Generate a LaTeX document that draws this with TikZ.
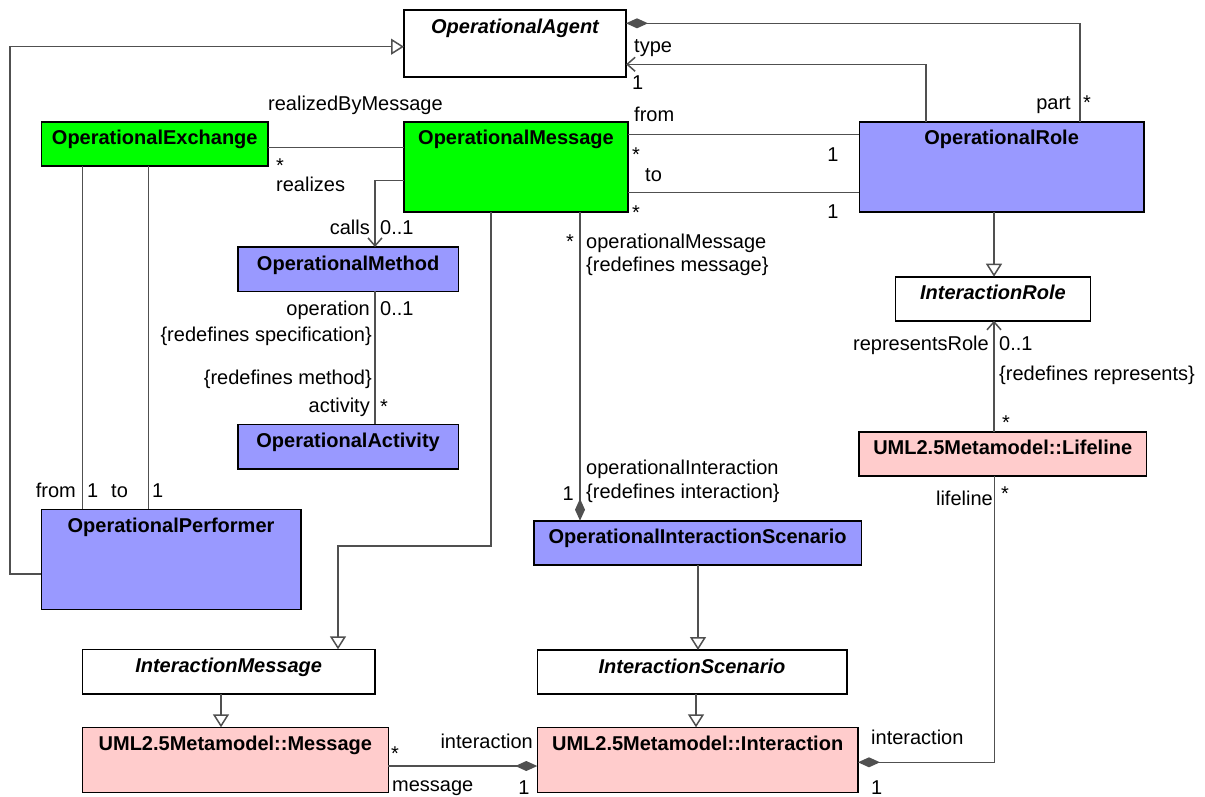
\documentclass[tikz,border=0pt]{standalone}
\usepackage{fontspec}
\setmainfont{Liberation Sans}
\usetikzlibrary{arrows.meta}
\definecolor{opgreen}{RGB}{0,255,0}
\definecolor{opblue}{RGB}{153,153,255}
\definecolor{umlpink}{RGB}{255,204,204}
\definecolor{linec}{RGB}{80,80,80}
% class box: name, fill/style, left, top, right, bottom, title style, title
\newcommand\umlbox[8]{%
  \node[box,#2,minimum width={(#5-#3)*1pt},minimum height={(#6-#4)*1pt},
        label={[#7]north:#8}] (#1) at (#3,#4) {};}
\begin{document}
\begin{tikzpicture}[x=1pt,y=-1pt,
  font=\fontsize{20}{24}\selectfont,
  box/.style={draw=black,line width=1.6pt,inner sep=0pt,outer sep=0pt,anchor=north west},
  title/.style={font=\fontsize{20}{24}\selectfont\bfseries,anchor=north,yshift=-7pt,
                inner sep=2pt,text height=14pt,text depth=4pt},
  ititle/.style={title,font=\fontsize{20}{24}\selectfont\bfseries\itshape},
  lbl/.style={inner sep=2pt,text height=14pt,text depth=4pt},
  mult/.style={inner sep=1pt,text height=12pt,text depth=0pt},
  conn/.style={draw=linec,line width=1.5pt},
  assoc/.style={conn},
  gen/.style={conn,-{Triangle[open,length=13pt,width=16pt,fill=white]}},
  comp/.style={conn,-{Diamond[length=22pt,width=10pt,fill=linec]}},
  nav/.style={conn,-{Straight Barb[length=8pt,width=14pt]}}]

\useasboundingbox (0,0) rectangle (1205,796);

% classes
\umlbox{agent}{fill=white}{404}{10}{626}{77}{ititle}{OperationalAgent}
\umlbox{exch}{fill=opgreen}{41.5}{121.7}{268}{165.7}{title}{OperationalExchange}
\umlbox{msg}{fill=opgreen}{404}{121.7}{628}{211.7}{title}{OperationalMessage}
\umlbox{role}{fill=opblue}{859.3}{121.7}{1144}{211.7}{title}{OperationalRole}
\umlbox{meth}{fill=opblue}{237.7}{247}{458.5}{291.3}{title}{OperationalMethod}
\umlbox{act}{fill=opblue}{237.7}{424.3}{458.5}{468.7}{title}{OperationalActivity}
\umlbox{irole}{fill=white}{895.4}{276.7}{1090.5}{320.7}{ititle}{InteractionRole}
\umlbox{life}{fill=umlpink}{859}{431.7}{1146.4}{476}{title}{UML2.5Metamodel::Lifeline}
\umlbox{perf}{fill=opblue}{41.3}{509.3}{300.8}{609.3}{title}{OperationalPerformer}
\umlbox{ois}{fill=opblue}{533.7}{520.7}{861.5}{565}{title}{OperationalInteractionScenario}
\umlbox{imsg}{fill=white}{82.3}{649.3}{375}{694}{ititle}{InteractionMessage}
\umlbox{iscen}{fill=white}{537.3}{650}{846.7}{694}{ititle}{InteractionScenario}
\umlbox{umsg}{fill=umlpink}{82.3}{727.3}{388.4}{792.3}{title}{UML2.5Metamodel::Message}
\umlbox{inter}{fill=umlpink}{537.3}{727.3}{858}{792.3}{title}{UML2.5Metamodel::Interaction}

% generalizations
\draw[gen] (perf.west |- 0,574) -- (10,574) -- (10,46.7) -- (agent.west |- 0,46.7);
\draw[gen] (msg.south -| 491,0) -- (491,546) -- (338,546) -- (imsg.north -| 338,0);
\draw[gen] (role.south -| 994,0) -- (irole.north -| 994,0);
\draw[gen] (ois.south -| 698,0) -- (iscen.north -| 698,0);
\draw[gen] (iscen.south -| 696,0) -- (inter.north -| 696,0);
\draw[gen] (imsg.south -| 221,0) -- (umsg.north -| 221,0);

% compositions
\draw[comp] (role.north -| 1080,0) |- (agent.east |- 0,23.3);
\draw[comp] (msg.south -| 580,0) -- (ois.north -| 580,0);
\draw[comp] (umsg.east |- 0,766) -- (inter.west |- 0,766);
\draw[comp] (life.south -| 994.6,0) |- (inter.east |- 0,762.3);

% navigable associations
\draw[nav] (role.north -| 926,0) |- (agent.east |- 0,64.3);
\draw[nav] (msg.west |- 0,180.7) -| (meth.north -| 375,0);
\draw[nav] (life.north -| 994,0) -- (irole.south -| 994,0);

% plain associations
\draw[assoc] (exch.east |- 0,147.3) -- (msg.west |- 0,147.3);
\draw[assoc] (msg.east |- 0,134.3) -- (role.west |- 0,134.3);
\draw[assoc] (msg.east |- 0,192.7) -- (role.west |- 0,192.7);
\draw[assoc] (meth.south -| 375,0) -- (act.north -| 375,0);
\draw[assoc] (exch.south -| 82.6,0) -- (perf.north -| 82.6,0);
\draw[assoc] (exch.south -| 148.7,0) -- (perf.north -| 148.7,0);

% role names and multiplicities
\node[lbl,anchor=west] (tType) at (632,47) {type};
\node[mult,anchor=west] (tTypeM) at (631,83) {1};
\node[lbl,anchor=east] (tPart) at (1073,104) {part};
\node[mult,anchor=west] (tPartM) at (1082,103) {*};
\node[lbl,anchor=west] (tRbm) at (266,105) {realizedByMessage};
\node[lbl,anchor=west] (tFrom) at (632,116) {from};
\node[mult,anchor=west] (tFromS) at (631,155) {*};
\node[mult,anchor=center] (tFromM) at (833,155) {1};
\node[lbl,anchor=west] (tTo) at (643,176) {to};
\node[mult,anchor=west] (tToS) at (631,213) {*};
\node[mult,anchor=center] (tToM) at (833,212) {1};
\node[mult,anchor=west] (tRealS) at (275,166) {*};
\node[lbl,anchor=west] (tReal) at (274,186) {realizes};
\node[lbl,anchor=east] (tCalls) at (372,229) {calls};
\node[lbl,anchor=west] (tCallsM) at (378,229) {0..1};
\node[lbl,anchor=east] (tOper) at (372,310) {operation};
\node[lbl,anchor=west] (tOperM) at (378,310) {0..1};
\node[lbl,anchor=east] (tSpec) at (374,336) {\{redefines specification\}};
\node[lbl,anchor=east] (tMeth) at (374,379) {\{redefines method\}};
\node[lbl,anchor=east] (tAct) at (372,407) {activity};
\node[mult,anchor=west] (tActM) at (379,407) {*};
\node[mult,anchor=east] (tOmS) at (575,242) {*};
\node[lbl,anchor=west] (tOm) at (584,243) {operationalMessage};
\node[lbl,anchor=west] (tOmR) at (584,266) {\{redefines message\}};
\node[lbl,anchor=west] (tOi) at (584,469) {operationalInteraction};
\node[lbl,anchor=west] (tOiR) at (584,493) {\{redefines interaction\}};
\node[mult,anchor=east] (tOiM) at (575,494) {1};
\node[lbl,anchor=east] (tPFrom) at (78,492) {from};
\node[mult,anchor=west] (tPFromM) at (86,491) {1};
\node[lbl,anchor=west] (tPTo) at (109,492) {to};
\node[mult,anchor=west] (tPToM) at (151,491) {1};
\node[lbl,anchor=east] (tRepr) at (991,345) {representsRole};
\node[lbl,anchor=west] (tReprM) at (997,345) {0..1};
\node[lbl,anchor=west] (tReprR) at (997,375) {\{redefines represents\}};
\node[mult,anchor=west] (tReprS) at (1001,423) {*};
\node[lbl,anchor=east] (tLife) at (995,500) {lifeline};
\node[mult,anchor=west] (tLifeS) at (1000,494) {*};
\node[lbl,anchor=west] (tInt2) at (869,739) {interaction};
\node[mult,anchor=west] (tInt2M) at (870,788) {1};
\node[mult,anchor=west] (tMsgS) at (390,754) {*};
\node[lbl,anchor=west] (tMsg) at (390,786) {message};
\node[lbl,anchor=east] (tInt1) at (535,743) {interaction};
\node[mult,anchor=center] (tInt1M) at (524,788) {1};
\end{tikzpicture}
\end{document}
